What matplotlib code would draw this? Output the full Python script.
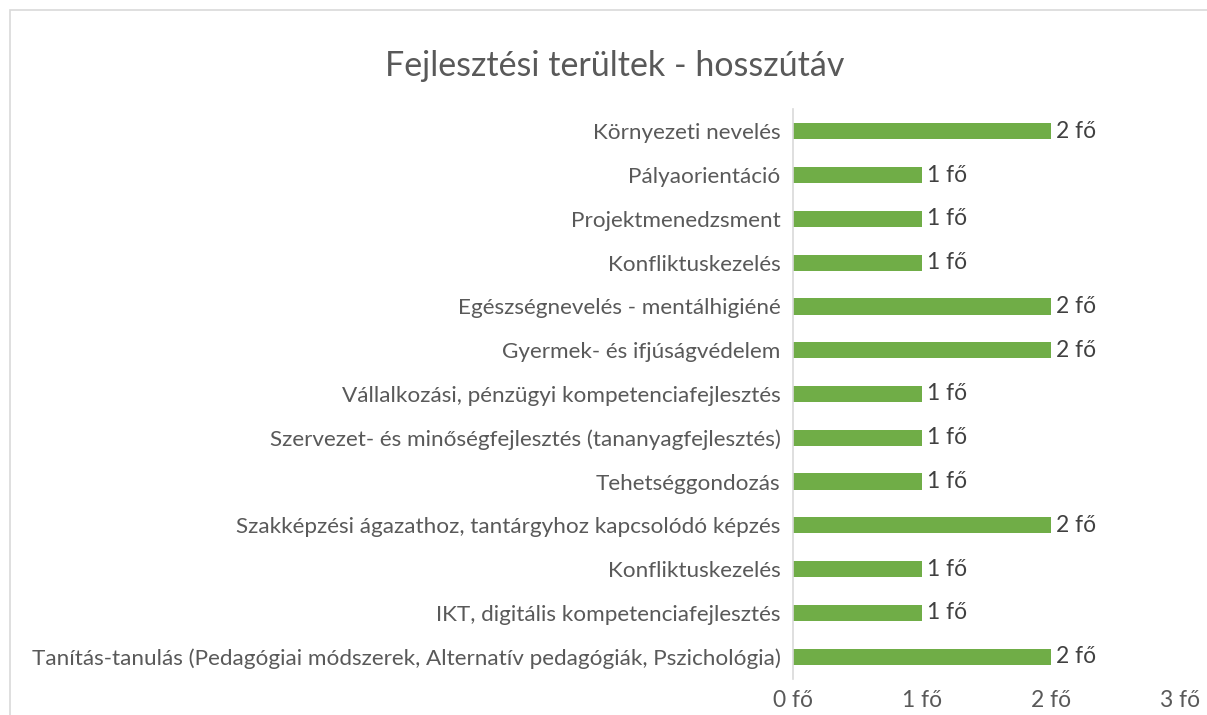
import matplotlib.pyplot as plt
from matplotlib.patches import Rectangle

categories = [
    "Környezeti nevelés",
    "Pályaorientáció",
    "Projektmenedzsment",
    "Konfliktuskezelés",
    "Egészségnevelés - mentálhigiéné",
    "Gyermek- és ifjúságvédelem",
    "Vállalkozási, pénzügyi kompetenciafejlesztés",
    "Szervezet- és minőségfejlesztés (tananyagfejlesztés)",
    "Tehetséggondozás",
    "Szakképzési ágazathoz, tantárgyhoz kapcsolódó képzés",
    "Konfliktuskezelés",
    "IKT, digitális kompetenciafejlesztés",
    "Tanítás-tanulás (Pedagógiai módszerek, Alternatív pedagógiák, Pszichológia)",
]
values = [2, 1, 1, 1, 2, 2, 1, 1, 1, 2, 1, 1, 2]
xticks = [0, 1, 2, 3]

plt.rcParams['font.family'] = ['Lato', 'DejaVu Sans']
txt = '#595959'

fig = plt.figure(figsize=(12.07, 7.15), dpi=100)
ax = fig.add_axes([0.657, 0.051, 0.321, 0.796])

pos = list(range(len(categories)))
ax.barh(pos, values, height=0.37, color='#70AD47')
ax.set_ylim(len(categories) - 0.5, -0.5)
ax.set_xlim(0, 3)

ax.set_yticks(pos)
ax.set_yticklabels(categories, fontsize=16.2, color=txt)
ax.set_xticks(xticks)
ax.set_xticklabels([f"{t} fő" for t in xticks], fontsize=16.5, color=txt)
ax.tick_params(axis='both', length=0)
ax.tick_params(axis='y', pad=9)
ax.tick_params(axis='x', pad=8)

for s in ['top', 'right', 'bottom']:
    ax.spines[s].set_visible(False)
ax.spines['left'].set_color('#D9D9D9')
ax.spines['left'].set_linewidth(1.2)

for p, v in zip(pos, values):
    ax.text(v + 0.04, p, f"{v} fő", va='center', ha='left', fontsize=16.5, color='#404040')

fig.text(0.509, 0.908, "Fejlesztési terültek - hosszútáv", ha='center', va='center',
         fontsize=24.5, color=txt)

fig.patches.append(Rectangle((10 / 1207, -0.1), 1.2, 1 - 10 / 715 + 0.1,
                             transform=fig.transFigure, fill=False,
                             edgecolor='#D9D9D9', linewidth=1.2))

fig.savefig("out.png", dpi=100)
